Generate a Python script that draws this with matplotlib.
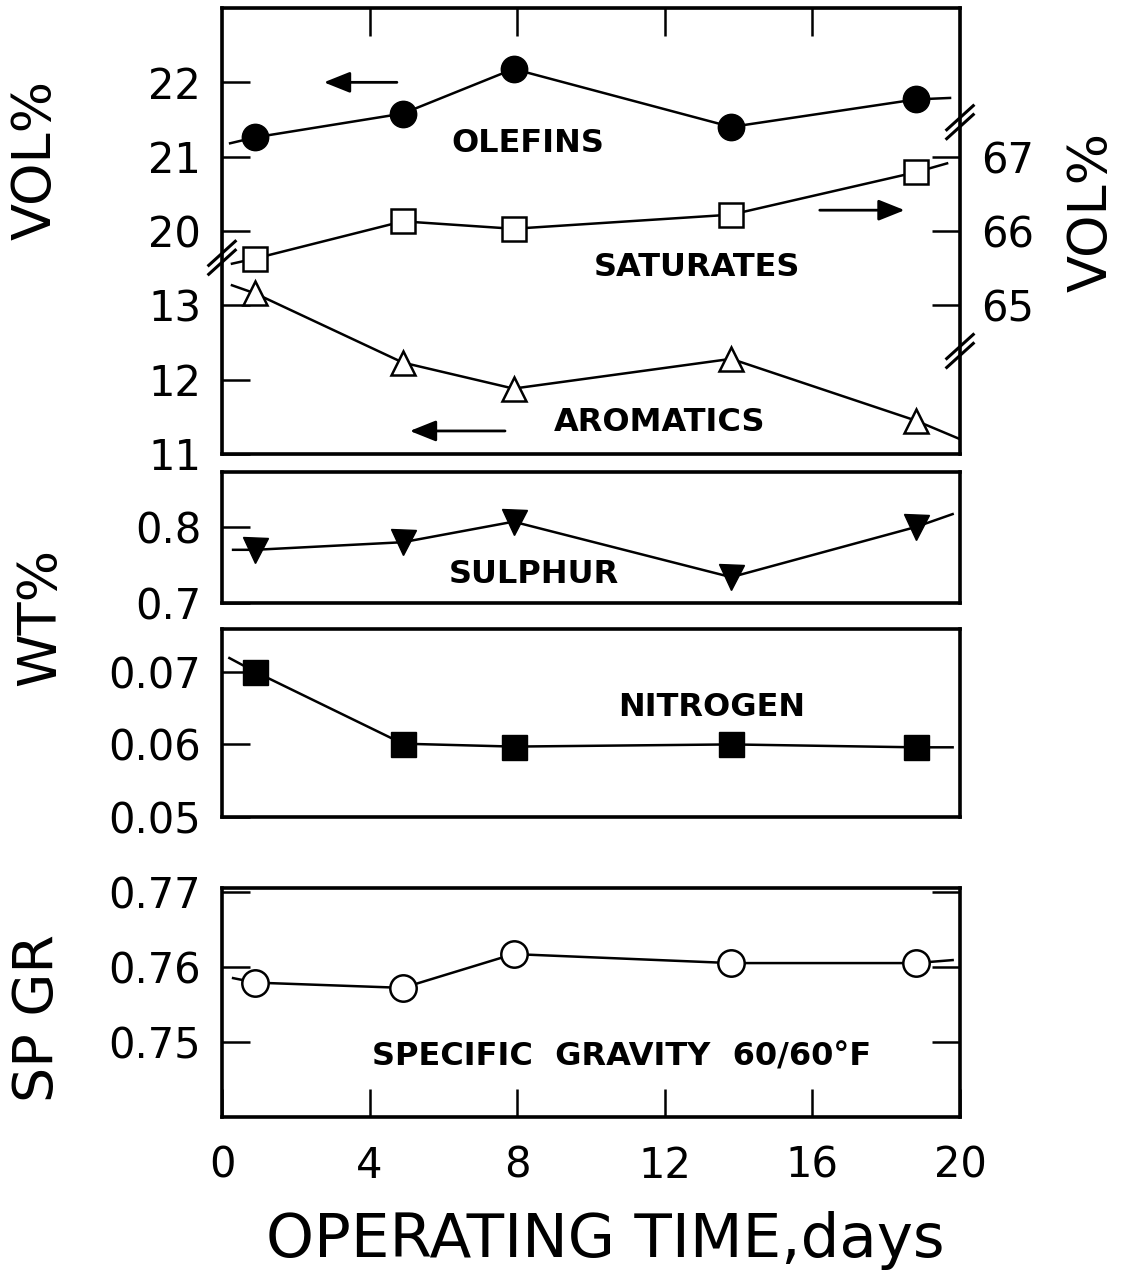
import matplotlib
matplotlib.use('Agg')
import matplotlib.pyplot as plt

# sampling days (same samples for every property)
days = [0.9, 4.9, 7.9, 13.8, 18.8]

# hydrocarbon types, vol %
olefins = [21.26, 21.58, 22.18, 21.40, 21.77]
saturates = [65.63, 66.13, 66.03, 66.22, 66.79]
aromatics = [13.16, 12.23, 11.88, 12.28, 11.45]

# sulphur and nitrogen, wt %
sulphur = [0.770, 0.780, 0.807, 0.734, 0.800]
nitrogen = [0.0700, 0.0601, 0.0597, 0.0600, 0.0596]

# specific gravity 60/60 F
sp_gr = [0.7579, 0.7572, 0.7617, 0.7605, 0.7605]

# where each drawn curve starts and stops beyond the first/last sample
olefins_ends = ([0.22, 19.73], [21.18, 21.79])
saturates_ends = ([0.27, 19.65], [65.56, 66.91])
aromatics_ends = ([0.27, 20.0], [13.27, 11.20])
sulphur_ends = ([0.3, 19.8], [0.770, 0.817])
nitrogen_ends = ([0.2, 19.8], [0.0719, 0.0596])
sp_gr_ends = ([0.3, 19.8], [0.7585, 0.7609])

plt.rcParams['font.family'] = 'DejaVu Sans'

W, H = 1128, 1280
fig = plt.figure(figsize=(W / 100, H / 100), dpi=100)


def px_axes(x0, y0, x1, y1):
    return fig.add_axes([x0 / W, 1 - y1 / H, (x1 - x0) / W, (y1 - y0) / H])


TICK = dict(direction='in', length=20, width=1.8, labelsize=30, pad=15)
LINE = dict(color='k', lw=1.8)
TXT = dict(fontsize=23, fontweight='bold', ha='center', va='center')


def frame(ax):
    for s in ax.spines.values():
        s.set_linewidth(2.6)
    ax.set_xlim(0, 20)


def curve(ax, ends, y, **mk):
    ex, ey = ends
    xs = [ex[0]] + days + [ex[1]]
    ys = [ey[0]] + y + [ey[1]]
    ax.plot(xs, ys, **LINE, zorder=2)
    ax.plot(days, y, ls='none', zorder=3, **mk)


def break_mark(ax, x, y):
    dx, dy = 0.018, 0.027
    for off in (-0.01, 0.01):
        ax.plot([x - dx, x + dx], [y - dy + off, y + dy + off],
                transform=ax.transAxes, color='k', lw=2.2,
                clip_on=False, zorder=10)


# ---- top panel: olefins / aromatics (left), saturates (right)
ax = px_axes(222, 8, 960, 454)
frame(ax)
ax.set_ylim(17, 23)
ax.set_yticks([20, 21, 22])
ax.set_xticks([4, 8, 12, 16])
ax.tick_params(axis='x', top=True, bottom=False, labeltop=False, labelbottom=False, **TICK)
ax.tick_params(axis='y', left=True, right=False, **TICK)

ax_aro = ax.twinx()
ax_aro.set_ylim(11, 17)
ax_aro.yaxis.tick_left()
ax_aro.set_yticks([11, 12, 13])
ax_aro.tick_params(axis='y', **TICK)

ax_sat = ax.twinx()
ax_sat.set_ylim(63, 69)
ax_sat.set_yticks([65, 66, 67])
ax_sat.tick_params(axis='y', **TICK)

curve(ax, olefins_ends, olefins, marker='o', ms=19, mfc='k', mec='k')
curve(ax_sat, saturates_ends, saturates, marker='s', ms=17, mfc='white', mec='k', mew=1.8)
curve(ax_aro, aromatics_ends, aromatics, marker='^', ms=17, mfc='white', mec='k', mew=1.8)

ax.text(0.415, 0.697, 'OLEFINS', transform=ax.transAxes, **TXT)
ax.text(0.644, 0.419, 'SATURATES', transform=ax.transAxes, **TXT)
ax.text(0.593, 0.070, 'AROMATICS', transform=ax.transAxes, **TXT)

arrow = dict(arrowstyle='-|>,head_length=0.8,head_width=0.32', color='k', lw=2,
             mutation_scale=20, shrinkA=0, shrinkB=0)
ax.annotate('', xy=(2.76, 22.0), xytext=(4.74, 22.0), arrowprops=arrow)
ax.annotate('', xy=(18.5, 20.28), xytext=(16.2, 20.28), arrowprops=arrow)
ax.annotate('', xy=(5.09, 17.31), xytext=(7.67, 17.31), arrowprops=arrow)

break_mark(ax, 0.0, 0.44)
break_mark(ax, 1.0, 0.744)
break_mark(ax, 1.0, 0.231)

# ---- sulphur
ax_s = px_axes(222, 472, 960, 603)
frame(ax_s)
ax_s.set_ylim(0.7, 0.8724)
ax_s.set_yticks([0.7, 0.8])
ax_s.set_yticklabels(['0.7', '0.8'])
ax_s.set_xticks([])
ax_s.tick_params(axis='y', **TICK)
curve(ax_s, sulphur_ends, sulphur, marker='v', ms=18, mfc='k', mec='k')
ax_s.text(0.423, 0.214, 'SULPHUR', transform=ax_s.transAxes, **TXT)

# ---- nitrogen
ax_n = px_axes(222, 629, 960, 817)
frame(ax_n)
ax_n.set_ylim(0.05, 0.0759)
ax_n.set_yticks([0.05, 0.06, 0.07])
ax_n.set_yticklabels(['0.05', '0.06', '0.07'])
ax_n.set_xticks([])
ax_n.tick_params(axis='y', **TICK)
curve(ax_n, nitrogen_ends, nitrogen, marker='s', ms=18, mfc='k', mec='k')
ax_n.text(0.664, 0.580, 'NITROGEN', transform=ax_n.transAxes, **TXT)

# ---- specific gravity
ax_g = px_axes(222, 888, 960, 1117)
frame(ax_g)
ax_g.set_ylim(0.74, 0.7705)
ax_g.set_yticks([0.75, 0.76, 0.77])
ax_g.set_yticklabels(['0.75', '0.76', '0.77'])
ax_g.set_xticks([0, 4, 8, 12, 16, 20])
ax_g.tick_params(axis='y', left=True, right=True, labelright=False, **TICK)
ax_g.tick_params(axis='x', **{**TICK, 'pad': 20})
curve(ax_g, sp_gr_ends, sp_gr, marker='o', ms=19, mfc='white', mec='k', mew=1.8)
ax_g.text(0.541, 0.262, 'SPECIFIC  GRAVITY  60/60\u00b0F', transform=ax_g.transAxes, **TXT)

# ---- axis titles
fig.text(36 / W, 1 - 160 / H, 'VOL%', rotation=90, fontsize=39, ha='center', va='center')
fig.text(1092 / W, 1 - 212 / H, 'VOL%', rotation=90, fontsize=39, ha='center', va='center')
fig.text(40 / W, 1 - 617 / H, 'WT%', rotation=90, fontsize=39, ha='center', va='center')
fig.text(38 / W, 1 - 1018 / H, 'SP GR', rotation=90, fontsize=40, ha='center', va='center')
fig.text(605 / W, 1 - 1240 / H, 'OPERATING TIME,days', fontsize=44, ha='center', va='center')

fig.savefig('out.png', dpi=100)
